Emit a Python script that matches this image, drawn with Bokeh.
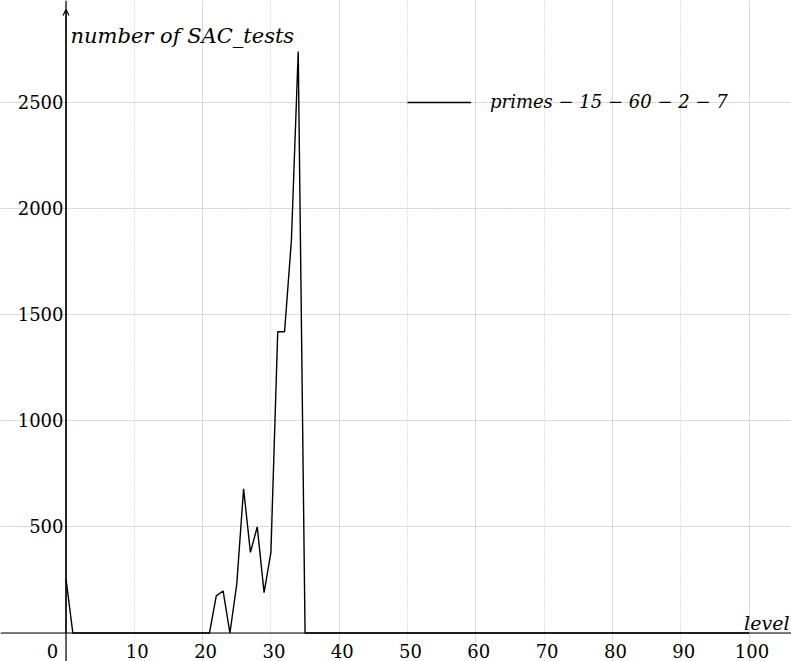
from bokeh.plotting import figure
from bokeh.models import (Range1d, Span, Grid, FixedTicker, ColumnDataSource, Arrow,
                          OpenHead, Legend, LegendItem)
from bokeh.core.properties import value
from bokeh.embed import file_html
from bokeh.resources import INLINE

# ---- data ----
levels = list(range(0, 101))
tests_peak = {0: 255, 22: 175, 23: 198, 25: 230, 26: 680, 27: 380, 28: 500,
              29: 190, 30: 380, 31: 1420, 32: 1420, 33: 1850, 34: 2740}
sac_tests = [tests_peak.get(l, 0) for l in levels]

x_ticks = [10, 20, 30, 40, 50, 60, 70, 80, 90, 100]
x_tick_labels = ["10", "20", "30", "40", "50", "60", "70", "80", "90", "100"]
y_ticks = [500, 1000, 1500, 2000, 2500]
y_tick_labels = ["500", "1000", "1500", "2000", "2500"]
series_name = "primes \u2212 15 \u2212 60 \u2212 2 \u2212 7"
x_label = "level"
y_label = "number of SAC_tests"

X_MIN, X_MAX = -9.59, 106.22
Y_MIN, Y_MAX = -134.3, 2980.7

W, H = 791, 661
p = figure(width=W, height=H, output_backend="svg", toolbar_location=None,
           x_range=Range1d(X_MIN, X_MAX), y_range=Range1d(Y_MIN, Y_MAX),
           x_axis_location=None, y_axis_location=None, min_border=0,
           outline_line_color=None)
p.background_fill_color = "white"

SERIF = "DejaVu Serif"

# grids
gx = Grid(dimension=0, ticker=FixedTicker(ticks=x_ticks), grid_line_color="#c4c4c4",
          grid_line_dash="1 2", grid_line_width=1)
gy = Grid(dimension=1, ticker=FixedTicker(ticks=y_ticks), grid_line_color="#c4c4c4",
          grid_line_dash="1 2", grid_line_width=1)
p.add_layout(gx)
p.add_layout(gy)

# axes through origin
p.add_layout(Span(location=0, dimension="width", line_color="black", line_width=1.2))
p.add_layout(Span(location=0, dimension="height", line_color="black", line_width=1.2))
p.add_layout(Arrow(end=OpenHead(size=6, line_color="black", line_width=1.2),
                   x_start=0, y_start=0, x_end=0, y_end=Y_MAX - 42,
                   line_color="black", line_width=1.2))

# data line
src = ColumnDataSource(dict(x=levels, y=sac_tests))
r = p.line("x", "y", source=src, line_color="black", line_width=1.4)

# tick labels
xs = ColumnDataSource(dict(x=x_ticks, y=[0] * len(x_ticks), t=x_tick_labels))
p.text("x", "y", text="t", source=xs, text_align="center", text_baseline="middle",
       x_offset=3, y_offset=17.5, text_font=value(SERIF), text_font_size="18px",
       text_color="black")
p.text(x=[0], y=[0], text=["0"], text_align="center", text_baseline="middle",
       x_offset=-13.5, y_offset=17.5, text_font=value(SERIF), text_font_size="18px",
       text_color="black")
ys = ColumnDataSource(dict(x=[0] * len(y_ticks), y=y_ticks, t=y_tick_labels))
p.text("x", "y", text="t", source=ys, text_align="right", text_baseline="middle",
       x_offset=-2.5, y_offset=-1, text_font=value(SERIF), text_font_size="18px",
       text_color="black")

# axis titles
p.text(x=[0], y=[Y_MAX], text=[y_label], text_align="left", text_baseline="alphabetic",
       x_offset=4.5, y_offset=35, text_font=value(SERIF), text_font_size="21px",
       text_font_style="italic", text_color="black")
p.text(x=[X_MAX], y=[0], text=[x_label], text_align="right", text_baseline="alphabetic",
       x_offset=-2, y_offset=-10.5, text_font=value(SERIF), text_font_size="19px",
       text_font_style="italic", text_color="black")

legend = Legend(items=[LegendItem(label=series_name, renderers=[r])],
                location=(407, 549), padding=0, margin=0, spacing=0,
                glyph_width=64, glyph_height=20, label_height=20, label_standoff=19,
                label_text_font=SERIF, label_text_font_size="18px",
                label_text_font_style="italic", label_text_color="black",
                border_line_color=None, background_fill_alpha=0)
p.add_layout(legend)

open("out.html", "w").write(file_html(p, INLINE))
